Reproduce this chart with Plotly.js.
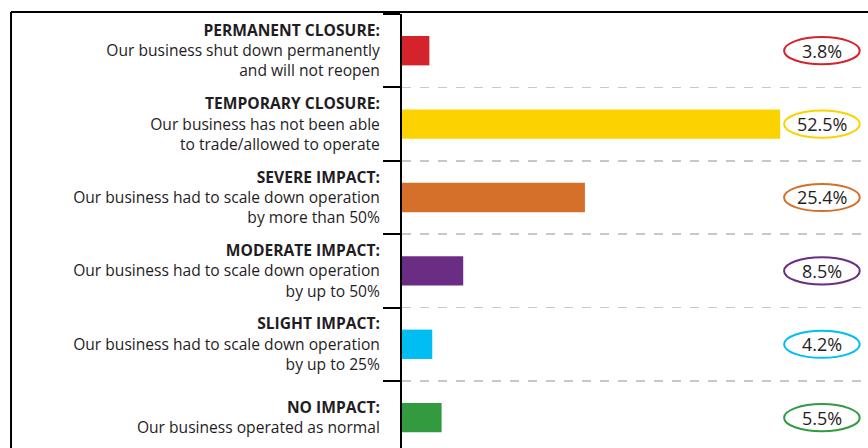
<!DOCTYPE html>
<html>
<head>
<meta charset="utf-8">
<script src="https://cdn.plot.ly/plotly-3.0.1.min.js"></script>
<style>html,body{margin:0;padding:0;background:#fff;}#chart{width:868px;height:448px;}</style>
</head>
<body>
<div id="chart"></div>
<script>
// ---- data ----
const headings = [
  "PERMANENT CLOSURE:",
  "TEMPORARY CLOSURE:",
  "SEVERE IMPACT:",
  "MODERATE IMPACT:",
  "SLIGHT IMPACT:",
  "NO IMPACT:"
];
const descriptions = [
  "Our business shut down permanently<br>and will not reopen",
  "Our business has not been able<br>to trade/allowed to operate",
  "Our business had to scale down operation<br>by more than 50%",
  "Our business had to scale down operation<br>by up to 50%",
  "Our business had to scale down operation<br>by up to 25%",
  "Our business operated as normal"
];
const values = [3.8, 52.5, 25.4, 8.5, 4.2, 5.5];
const colors = ["#d4232b", "#fcd300", "#d5702b", "#6b2c84", "#00bdf2", "#339a40"];

// ---- build ----
const categories = headings.map((h, i) => "<b>" + h + "</b><br>" + descriptions[i]);
const FONT = "'Open Sans', sans-serif";
const TXT = "#1f1d24";

const trace = {
  type: "bar",
  orientation: "h",
  x: values,
  y: categories,
  marker: { color: colors, line: { width: 0 } },
  hoverinfo: "none"
};

const LABEL_X = 58.3, LABEL_HW = 5.25, LABEL_HH = 0.185;
const shapes = [];
const annotations = [];
values.forEach((v, i) => {
  shapes.push({
    type: "circle", xref: "x", yref: "y",
    x0: LABEL_X - LABEL_HW, x1: LABEL_X + LABEL_HW,
    y0: i - LABEL_HH, y1: i + LABEL_HH,
    line: { color: colors[i], width: 2 }, fillcolor: "rgba(0,0,0,0)", layer: "above"
  });
  annotations.push({
    xref: "x", yref: "y", x: LABEL_X, y: i, text: v.toFixed(1) + "%",
    showarrow: false, font: { family: FONT, size: 18, color: TXT }
  });
});
// outer frame (left & top)
shapes.push({ type: "line", xref: "paper", yref: "paper", x0: -0.839, x1: 1.2, y0: 1.0046, y1: 1.0046, line: { color: "#000", width: 2 } });
shapes.push({ type: "line", xref: "paper", yref: "paper", x0: -0.839, x1: -0.839, y0: 1.0046, y1: -0.2, line: { color: "#000", width: 2 } });

const layout = {
  width: 868, height: 448,
  margin: { l: 402, r: 0, t: 14, b: 0 },
  paper_bgcolor: "#fff", plot_bgcolor: "#fff",
  showlegend: false,
  bargap: 0.6,
  xaxis: { range: [0, 64.7], visible: false, showgrid: false, zeroline: false, fixedrange: true },
  yaxis: {
    type: "category",
    range: [5.413, -0.5],
    tickson: "boundaries",
    ticks: "outside", ticklen: 17, tickwidth: 2, tickcolor: "#000",
    ticklabelstandoff: 17,
    showline: true, linecolor: "#000", linewidth: 2,
    showgrid: true, gridcolor: "#c8c8c8", gridwidth: 1.5, griddash: "dash",
    zeroline: false,
    tickfont: { family: FONT, size: 15.6, color: TXT },
    fixedrange: true
  },
  shapes: shapes,
  annotations: annotations
};

Plotly.newPlot("chart", [trace], layout, { displayModeBar: false, staticPlot: true });
</script>
</body>
</html>
